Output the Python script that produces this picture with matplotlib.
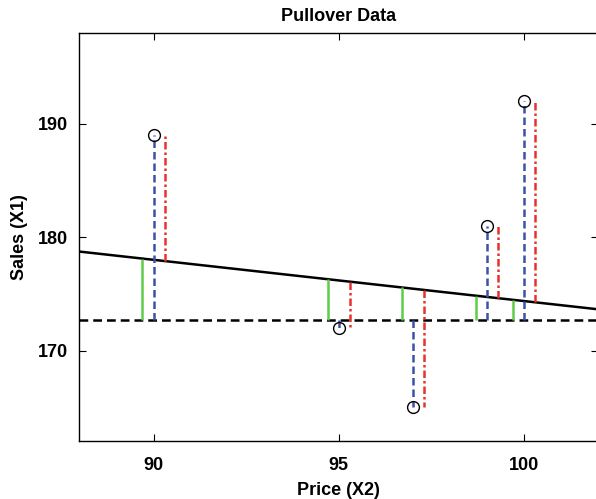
import matplotlib.pyplot as plt

plt.rcParams['font.family'] = ['Liberation Sans', 'DejaVu Sans']

# ---------------- DATA ----------------

price = [90, 95, 97, 99, 100]       # X2
sales = [189, 172, 165, 181, 192]   # X1

mean_sales = 172.7
intercept = 210.774
slope = -0.364

x_range = [88, 102]
x_ticks = [90, 95, 100]
y_ticks = [170, 180, 190]

# ---------------- PLOT ----------------

fig = plt.figure(figsize=(5.96, 4.99), dpi=100)
# right edge of the box sits just outside the picture, as in the reference
ax = fig.add_axes([0.1332, 0.1156, 0.8705, 0.8177])

reg = lambda x: intercept + slope * x

# mean line and regression line
ax.plot(x_range, [mean_sales, mean_sales], color='black', lw=1.8, ls=(0, (3.5, 2)))
ax.plot(x_range, [reg(x_range[0]), reg(x_range[1])], color='black', lw=1.8)

off = 0.3
for x, y in zip(price, sales):
    # explained part: mean -> regression
    ax.plot([x - off, x - off], [mean_sales, reg(x - off)], color='#5fcc4a', lw=1.8,
            solid_capstyle='butt')
    # total deviation: mean -> observation
    ax.plot([x, x], [mean_sales, y], color='#3a52a8', lw=1.8, ls=(0, (3, 1.6)))
    # residual: regression -> observation
    ax.plot([x + off, x + off], [reg(x + off), y], color='#e8322e', lw=1.8,
            ls=(0, (3, 1.2, 1, 1.2)))

ax.plot(price, sales, 'o', mfc='none', mec='black', ms=8.5, mew=1.0)

ax.set_xlim(*x_range)
ax.set_ylim(162, 198)
ax.set_xticks(x_ticks)
ax.set_yticks(y_ticks)
ax.tick_params(direction='in', top=True, right=True, length=5, width=0.8,
               labelsize=13, pad=8)
ax.tick_params(axis='x', pad=11)
for lab in ax.get_xticklabels() + ax.get_yticklabels():
    lab.set_fontweight('bold')
for s in ax.spines.values():
    s.set_linewidth(1.0)

ax.set_title('Pullover Data', fontsize=13, fontweight='bold', pad=9)
ax.set_xlabel('Price (X2)', fontsize=13, fontweight='bold', labelpad=6)
ax.set_ylabel('Sales (X1)', fontsize=13, fontweight='bold', labelpad=7)

fig.savefig('out.png', dpi=100)
